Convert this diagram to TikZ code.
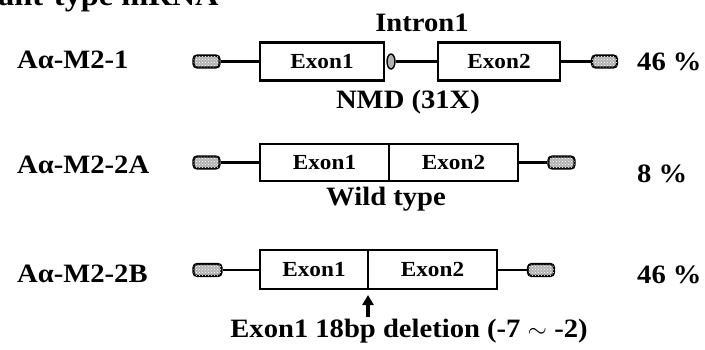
\documentclass[tikz,border=0pt]{standalone}
\usepackage{fontspec}
\setmainfont{Liberation Serif}[FakeStretch=1.08]
\usetikzlibrary{arrows.meta,shapes.geometric,patterns}
\begin{document}
\begin{tikzpicture}[x=1pt,y=-1pt,
  lbl/.style={inner sep=0pt,font=\fontsize{26.5}{30}\selectfont\bfseries},
  exontxt/.style={font=\fontsize{21.5}{24}\selectfont\bfseries},
  exonbox/.style={draw,line width=2.8pt,rectangle,inner sep=0pt,minimum height=38pt,exontxt},
  capbox/.style={draw,line width=2.2pt,rounded corners=3.5pt,inner sep=0pt,minimum width=26pt,minimum height=12pt,fill=gray!60,postaction={pattern=crosshatch dots,pattern color=white}},
  conn/.style={line width=2.4pt},
  intronmark/.style={draw,ellipse,line width=1.4pt,fill=gray!60,inner sep=0pt,minimum width=8pt,minimum height=15pt}]
\useasboundingbox (0,0) rectangle (705,349);
\begin{scope}
\clip (0,0) rectangle (705,349);
\node[lbl,font=\fontsize{30}{34}\selectfont\bfseries,anchor=base west] (title) at (-2,5) {ant-type mRNA};
\end{scope}
% Row 1
\node[lbl,anchor=base west] (n1) at (17,68) {Aα-M2-1};
\node[capbox] (c1l) at (206.5,61.5) {};
\node[exonbox,minimum width=124pt] (e11) at (322,61.5) {Exon1};
\node[intronmark] (i1) at (391,61.5) {};
\node[exonbox,minimum width=122pt] (e12) at (499,61.5) {Exon2};
\node[capbox,minimum width=25pt] (c1r) at (604.5,61.5) {};
\draw[conn] (c1l.east) -- (e11.west);
\draw[conn] (i1.east) -- (e12.west);
\draw[conn] (e12.east) -- (c1r.west);
\node[lbl,anchor=base] (intron) at (422,31) {Intron1};
\node[lbl,anchor=base] (nmd) at (408,108) {NMD (31X)};
\node[lbl,anchor=base west] (p1) at (637,70) {46 \%};
% Row 2
\node[lbl,anchor=base west] (n2) at (17,173) {Aα-M2-2A};
\node[capbox] (c2l) at (206.5,162.5) {};
\node[exonbox,minimum width=129pt,minimum height=37pt] (e21) at (324.5,162.5) {Exon1};
\node[exonbox,minimum width=129pt,minimum height=37pt] (e22) at (453.5,162.5) {Exon2};
\node[capbox] (c2r) at (561.5,162.5) {};
\draw[conn] (c2l.east) -- (e21.west);
\draw[conn] (e22.east) -- (c2r.west);
\node[lbl,anchor=base] (wt) at (386,205) {Wild type};
\node[lbl,anchor=base west] (p2) at (637,182) {8 \%};
% Row 3
\node[lbl,anchor=base west] (n3) at (17,282) {Aα-M2-2B};
\node[capbox,minimum width=28pt] (c3l) at (207.5,270) {};
\node[exonbox,minimum width=108pt,minimum height=39pt] (e31) at (314,269.5) {Exon1};
\node[exonbox,minimum width=129pt,minimum height=39pt] (e32) at (432.5,269.5) {Exon2};
\node[capbox] (c3r) at (541,270) {};
\draw[conn] (c3l.east) -- (c3l.east -| e31.west);
\draw[conn] (c3r.west -| e32.east) -- (c3r.west);
\coordinate (arrtail) at (368,317);
\coordinate (arrtip) at (368,295);
\draw[line width=3.4pt,-{Triangle[width=11pt,length=10pt]}] (arrtail) -- (arrtip);
\node[lbl,anchor=base] (del) at (409,337) {Exon1 18bp deletion (-7 $\sim$ -2)};
\node[lbl,anchor=base west] (p3) at (637,283) {46 \%};
\end{tikzpicture}
\end{document}
